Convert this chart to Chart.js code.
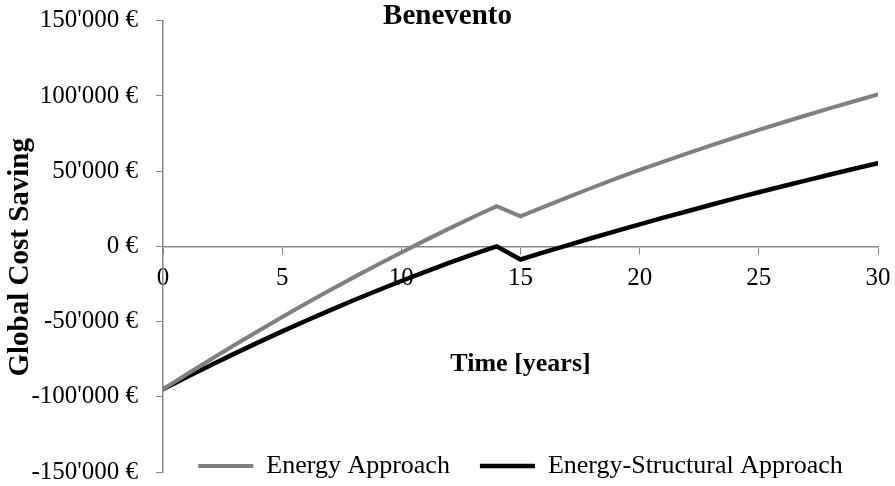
<!DOCTYPE html>
<html>
<head>
<meta charset="utf-8">
<script src="https://cdn.jsdelivr.net/npm/chart.js@4.4.0/dist/chart.umd.min.js"></script>
<style>
  html, body { margin: 0; padding: 0; background: #fff; }
  #wrap { width: 895px; height: 486px; }
</style>
</head>
<body>
<div id="wrap"><canvas id="chart" width="895" height="486"></canvas></div>
<script>
const years = [0, 1, 2, 3, 4, 5, 6, 7, 8, 9, 10, 11, 12, 13, 14, 15, 16, 17, 18, 19, 20, 21, 22, 23, 24, 25, 26, 27, 28, 29, 30];
const energyApproach = [-95000, -85000, -75200, -65600, -56200, -47000, -38000, -29200, -20600, -12200, -4000, 4000, 11800, 19400, 26800,
  20000, 26500, 32800, 39000, 45000, 50800, 56400, 61900, 67200, 72400, 77500, 82400, 87200, 91900, 96500, 101000];
const energyStructural = [-95000, -86900, -79000, -71300, -63800, -56500, -49400, -42500, -35800, -29300, -23000, -16900, -11000, -5300, 0,
  -8700, -3800, 900, 5600, 10200, 14700, 19100, 23400, 27700, 31900, 36000, 40000, 43900, 47800, 51600, 55300];
const seriesNames = ['Energy Approach', 'Energy-Structural Approach'];
const yTicks = [-150000, -100000, -50000, 0, 50000, 100000, 150000];

const serif = 'Liberation Serif';
const axisGrey = '#878787';
const legendPad = 30;
const legendFont = 26;

// euro label with apostrophe as thousands separator
function euro(v) {
  const s = Math.abs(v).toString().replace(/\B(?=(\d{3})+(?!\d))/g, "'");
  return (v < 0 ? '-' : '') + s + ' €';
}

// legend sits over the bottom of the plot, like the original
const legendNudge = {
  id: 'legendNudge',
  afterLayout(chart) {
    const lg = chart.legend;
    const dy = chart.chartArea.bottom - 6 - (lg.top + legendPad + legendFont / 2);
    lg.top += dy;
    lg.bottom += dy;
  }
};

const ctx = document.getElementById('chart').getContext('2d');
new Chart(ctx, {
  type: 'line',
  data: {
    labels: years,
    datasets: [
      {
        label: seriesNames[0],
        data: energyApproach,
        borderColor: '#7f7f7f',
        backgroundColor: '#7f7f7f',
        borderWidth: 4,
        borderCapStyle: 'round',
        pointRadius: 0,
        tension: 0
      },
      {
        label: seriesNames[1],
        data: energyStructural,
        borderColor: '#000000',
        backgroundColor: '#000000',
        borderWidth: 4.5,
        borderCapStyle: 'round',
        pointRadius: 0,
        tension: 0
      }
    ]
  },
  plugins: [legendNudge],
  options: {
    responsive: false,
    animation: false,
    layout: { padding: { top: 0, right: 0, bottom: -52, left: 0 } },
    plugins: {
      title: {
        display: true,
        text: 'Benevento',
        color: '#000',
        font: { family: serif, size: 29, weight: 'bold', lineHeight: 1.2 },
        padding: { top: -1, bottom: -13 }
      },
      legend: {
        position: 'bottom',
        fullSize: false,
        labels: {
          color: '#000',
          font: { family: serif, size: legendFont },
          usePointStyle: true,
          pointStyle: 'line',
          pointStyleWidth: 55,
          padding: legendPad
        }
      },
      tooltip: { enabled: false }
    },
    scales: {
      x: {
        type: 'linear',
        position: { y: 0 },
        min: 0,
        max: 30,
        afterFit: (axis) => { axis.paddingRight = 17; },
        ticks: {
          stepSize: 5,
          color: '#000',
          padding: 10,
          maxRotation: 0,
          font: { family: serif, size: 25 }
        },
        grid: { drawOnChartArea: false, drawTicks: true, tickLength: 7, color: axisGrey },
        border: { color: axisGrey, width: 1.5 },
        title: {
          display: true,
          text: 'Time [years]',
          color: '#000',
          font: { family: serif, size: 26, weight: 'bold' },
          padding: { top: 45, bottom: 0 }
        }
      },
      y: {
        min: -150000,
        max: 150000,
        afterBuildTicks: (axis) => { axis.ticks = yTicks.map(v => ({ value: v })); },
        afterFit: (axis) => {
          axis.width = 163;
          axis.paddingTop = 0;
          axis.paddingBottom = 0;
        },
        ticks: {
          color: '#000',
          padding: 18,
          font: { family: serif, size: 25 },
          callback: (v) => euro(v)
        },
        grid: { drawOnChartArea: false, drawTicks: true, tickLength: 7, color: axisGrey },
        border: { color: axisGrey, width: 1.5 },
        title: {
          display: true,
          text: 'Global Cost Saving   ',
          color: '#000',
          font: { family: serif, size: 29, weight: 'bold', lineHeight: 1 },
          padding: { top: 6, bottom: 0 }
        }
      }
    }
  }
});
</script>
</body>
</html>
